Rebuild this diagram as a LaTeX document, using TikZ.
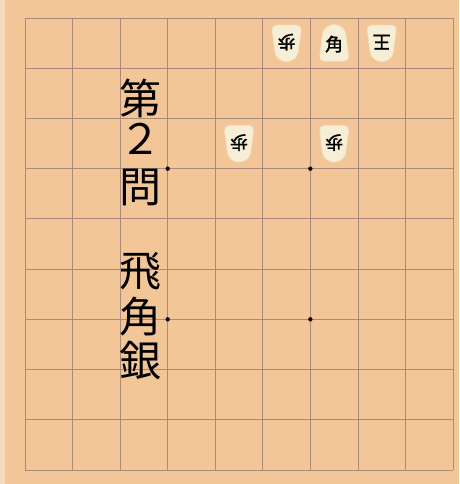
\documentclass[tikz,border=0pt]{standalone}
\usepackage{fontspec}
\newfontfamily\jfont{Noto Sans CJK JP}
\newfontfamily\jfett[FakeBold=1.6]{Noto Sans CJK JP}
\usetikzlibrary{positioning}
\definecolor{holz}{RGB}{243,198,152}
\definecolor{linie}{RGB}{170,138,122}
\definecolor{koma}{RGB}{246,238,214}

\tikzset{
  schrift/.style={font=\jfont\fontsize{42}{42}\selectfont, inner sep=0pt},
  figur/.style={font=\jfett\fontsize{18}{18}\selectfont, inner sep=0pt},
  rand/.style={draw=koma!70!holz, fill=koma, line width=0.6pt, rounded corners=5pt},
}

% Spielstein: Spalte, Zeile, Drehung, Zeichen, Name
\newcommand{\komastein}[5]{%
  \begin{scope}[shift={(\xnull+#1*\bw+0.5*\bw, \ynull+#2*\bh+0.5*\bh)}, rotate=#3]
    \draw[rand] (0,-20) -- (11,-14) -- (15,18) -- (-15,18) -- (-11,-14) -- cycle;
    \node[figur, rotate=#3] (#5) at (0,1) {#4};
  \end{scope}}

\begin{document}
\begin{tikzpicture}[x=1pt,y=-1pt]
	
	\def\xnull{25}
	\def\ynull{18}
	\def\bw{47.56}
	\def\bh{50.22}
	\useasboundingbox (0,0) rectangle (459,484);
	
	% Hintergrund
	\fill[holz] (0,0) rectangle (459,484);
	\fill[white!35!holz] (0,0) rectangle (5,484);
	
	% Gitternetzlinien
	\foreach \i in {0,...,9}{
		\draw[linie, line width=0.8pt] (\xnull+\i*\bw,\ynull) -- (\xnull+\i*\bw,\ynull+9*\bh);
		\draw[linie, line width=0.8pt] (\xnull,\ynull+\i*\bh) -- (\xnull+9*\bw,\ynull+\i*\bh);
	}
	
	%Sternpunkte
	\foreach \x/\y in {3/3,6/3,3/6,6/6}
	\fill[black] (\xnull+\x*\bw,\ynull+\y*\bh) circle (2.2pt);
	
	% Steine
	\komastein{5}{0}{180}{歩}{fu1}
	\komastein{6}{0}{0}{角}{kaku}
	\komastein{7}{0}{180}{王}{ou}
	\komastein{4}{2}{180}{歩}{fu2}
	\komastein{6}{2}{180}{歩}{fu3}
	
	% Titel
	\foreach \z/\y/\n in {第/98/t1, ２/139/t2, 問/187/t3, 飛/271/t4, 角/317/t5, 銀/361/t6}
	\node[schrift] (\n) at (140,\y) {\z};
	
\end{tikzpicture}
\end{document}
